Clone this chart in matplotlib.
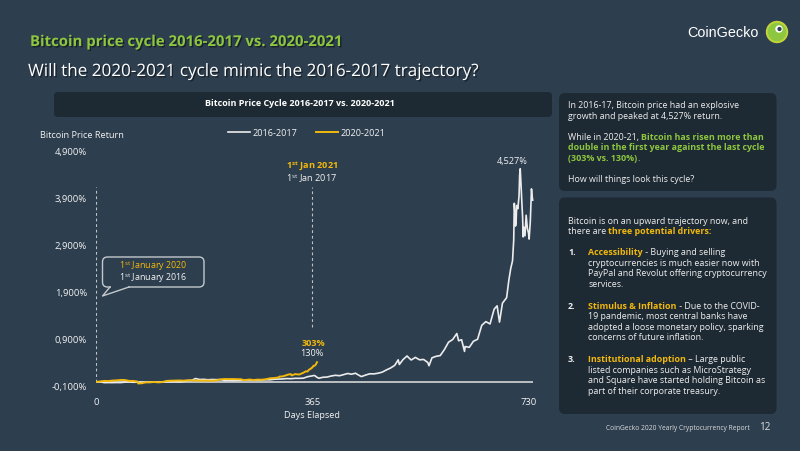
"""
Bitcoin price cycle 2016-2017 vs 2020-2021 slide
"""

import matplotlib
matplotlib.use("Agg")
import matplotlib.pyplot as plt
import matplotlib.patheffects as pe
from matplotlib.font_manager import FontProperties
from matplotlib.patches import FancyBboxPatch, Circle, Rectangle
from matplotlib.lines import Line2D

# ---- data -------------------------------------------------------------
# 2016-2017 cycle, return in % since 1st Jan 2016
days_1617 = [0, 7, 14, 21, 28, 35, 42, 49, 56, 63,
             70, 77, 84, 91, 98, 105, 112, 119, 126, 133,
             140, 147, 154, 161, 168, 175, 182, 189, 196, 203,
             210, 217, 224, 231, 238, 245, 252, 259, 266, 273,
             280, 287, 294, 301, 308, 315, 322, 329, 336, 343,
             350, 357, 362, 365, 368, 370, 372, 376, 383, 390,
             397, 404, 411, 418, 425, 431, 434, 438, 444, 448,
             455, 462, 469, 476, 483, 490, 497, 504, 508, 510,
             512, 518, 525, 528, 532, 539, 546, 553, 560, 562,
             567, 574, 581, 588, 595, 602, 609, 612, 617, 622,
             623, 630, 637, 644, 651, 658, 665, 672, 677, 681,
             686, 693, 697, 700, 703, 705, 706, 707, 708, 709,
             710, 712, 714, 715, 716, 718, 720, 721, 722, 724,
             726, 728, 730, 731, 733, 735, 736, 737]
ret_1617 = [0, 4, -14, -12, -13, -11, -12, -3, 0, -6,
            -3, -6, -4, -4, -3, -1, 3, 5, 6, 5,
            2, 9, 31, 33, 73, 53, 56, 47, 53, 50,
            51, 32, 35, 32, 33, 38, 43, 40, 39, 40,
            42, 47, 46, 59, 62, 65, 73, 70, 78, 78,
            81, 112, 122, 130, 138, 130, 107, 80, 100, 105,
            127, 142, 133, 158, 181, 165, 174, 186, 140, 115,
            147, 174, 172, 186, 209, 255, 296, 352, 428, 471,
            372, 474, 552, 513, 467, 522, 471, 478, 414, 345,
            513, 545, 561, 688, 845, 902, 1029, 875, 898, 649,
            753, 736, 865, 907, 1202, 1282, 1232, 1547, 1617, 1271,
            1674, 1789, 2181, 2411, 2573, 3011, 3794, 3610, 3310, 3379,
            3748, 3679, 3955, 4393, 4527, 4001, 3494, 3080, 3287, 3103,
            3541, 3264, 3160, 3034, 3402, 4100, 3950, 3860]

# 2020-2021 cycle, return in % since 1st Jan 2020
days_2021 = [0, 7, 14, 21, 28, 35, 42, 49, 56, 63,
             70, 71, 77, 84, 91, 98, 105, 112, 119, 126,
             133, 140, 147, 154, 161, 168, 175, 182, 189, 196,
             203, 210, 217, 224, 231, 238, 245, 248, 252, 259,
             266, 273, 280, 287, 294, 301, 308, 310, 315, 322,
             325, 329, 330, 336, 343, 350, 354, 357, 360, 362,
             364, 365, 367, 369, 371, 373]
ret_2021 = [0, 12, 22, 20, 30, 34, 43, 41, 22, 22,
            10, -31, -27, -7, -8, 1, -8, -1, 22, 27,
            29, 32, 28, 34, 37, 31, 29, 28, 31, 27,
            33, 54, 63, 61, 63, 59, 58, 42, 42, 52,
            42, 50, 48, 59, 78, 84, 96, 116, 118, 147,
            160, 166, 138, 167, 158, 196, 226, 223, 267, 276,
            301, 303, 344, 344, 372, 420]

y_ticks = [-100, 900, 1900, 2900, 3900, 4900]
y_tick_labels = ['-0,100%', '0,900%', '1,900%', '2,900%', '3,900%', '4,900%']
x_ticks = [0, 365, 730]
marker_days = [0, 365]
marker_tops = [4140, 4140]
marker_bottoms = [0, 1170]

# ---- style ------------------------------------------------------------
BG = '#2d3e4e'
PANEL = '#1e2a33'
GREEN = '#8dc63f'
YELLOW = '#f2b90c'
WHITE = '#f2f2f2'
GREY = '#d6d6d6'
FONT = 'Open Sans'
LBL = 6.6      # chart label size
TXT = 6.4      # panel text size

plt.rcParams['font.family'] = [FONT, 'DejaVu Sans']
plt.rcParams['mathtext.fontset'] = 'custom'
plt.rcParams['mathtext.rm'] = FONT
plt.rcParams['mathtext.bf'] = FONT + ':bold'
plt.rcParams['mathtext.it'] = FONT + ':italic'

W, H = 800, 451
fig = plt.figure(figsize=(8, 4.51), dpi=100, facecolor=BG)
renderer = fig.canvas.get_renderer()

# decoration layer in pixel coordinates
bg = fig.add_axes([0, 0, 1, 1], zorder=0)
bg.set_xlim(0, W)
bg.set_ylim(H, 0)
bg.axis('off')

shadow = [pe.withSimplePatchShadow(offset=(1, -1), shadow_rgbFace='black', alpha=0.45)]

# titles
bg.text(30, 42, 'Bitcoin price cycle 2016-2017 vs. 2020-2021', color=GREEN,
        fontsize=10.75, fontweight='bold', va='center', path_effects=shadow)
bg.text(28, 72, 'Will the 2020-2021 cycle mimic the 2016-2017 trajectory?',
        color='white', fontsize=12.3, va='center', path_effects=shadow)

# logo
bg.text(687, 33, 'CoinGecko', color='white', fontsize=10.4,
        family='Liberation Sans', va='center')
bg.add_patch(Circle((777, 32), 10.5, color='#c3d33c', zorder=2))
bg.add_patch(Circle((777, 32), 8.5, color='#8dc63f', zorder=3))
bg.add_patch(Circle((779, 29), 3, color='white', zorder=4))
bg.add_patch(Circle((779.5, 29), 1.4, color='#2d3e4e', zorder=5))

# chart title bar
bg.add_patch(FancyBboxPatch((54, 92), 498, 25, boxstyle='round,pad=0,rounding_size=4',
                            fc=PANEL, ec='none'))
bg.text(300, 103.5, 'Bitcoin Price Cycle 2016-2017 vs. 2020-2021', color='white',
        fontsize=6.45, fontweight='bold', ha='center', va='center')

bg.text(40, 135, 'Bitcoin Price Return', color=WHITE, fontsize=LBL, va='center')
bg.text(312, 416, 'Days Elapsed', color=WHITE, fontsize=LBL, ha='center', va='center')

# callout box
bg.add_patch(FancyBboxPatch((102.5, 257), 101.5, 30, boxstyle='round,pad=0,rounding_size=5',
                            fc=BG, ec='#c4c8cc', lw=1, zorder=3))
bg.add_patch(Rectangle((111, 285.5), 17, 3, fc=BG, ec='none', zorder=4))
bg.add_line(Line2D([110, 102.5, 129], [287, 296, 287], color='#c4c8cc', lw=1, zorder=5))
bg.text(153, 265.8, '1$^{\\mathrm{st}}$ January 2020', color=YELLOW, fontsize=6.4,
        ha='center', va='center', zorder=6)
bg.text(153, 278.6, '1$^{\\mathrm{st}}$ January 2016', color=WHITE, fontsize=6.4,
        ha='center', va='center', zorder=6)

# ---- chart -------------------------------------------------------------
px_per_day = 0.5925
px_per_pct = 0.0471
x0_px, ym100_px = 96, 386.7
ax_l, ax_r, ax_t, ax_b = 96, 540, 140, 392
ax = fig.add_axes([ax_l / W, 1 - ax_b / H, (ax_r - ax_l) / W, (ax_b - ax_t) / H], zorder=1)
ax.set_facecolor('none')
ax.set_xlim(0, (ax_r - x0_px) / px_per_day)
ax.set_ylim(-100 - (ax_b - ym100_px) / px_per_pct, -100 + (ym100_px - ax_t) / px_per_pct)
for s in ax.spines.values():
    s.set_visible(False)

ax.hlines(0, 0, days_1617[-1], color=GREY, lw=1.2, zorder=1)
ax.vlines(marker_days, marker_bottoms, marker_tops, color='#bfc3c7', lw=0.8,
          linestyles=(0, (2.5, 2.5)), zorder=1)

ax.plot(days_1617, ret_1617, color='#ececec', lw=1.2, label='2016-2017', zorder=2)
ax.plot(days_2021, ret_2021, color=YELLOW, lw=1.4, label='2020-2021', zorder=3)

ax.set_yticks(y_ticks)
ax.set_yticklabels(y_tick_labels)
ax.set_xticks(x_ticks)
ax.tick_params(length=0, colors=WHITE, labelsize=6.8)
ax.tick_params(axis='y', pad=6.5)
ax.tick_params(axis='x', pad=4)

leg = ax.legend(loc='center', bbox_to_anchor=(307 / W, 1 - 133 / H),
                bbox_transform=fig.transFigure, ncol=2, frameon=False, fontsize=LBL,
                handlelength=2.4, handletextpad=0.3, columnspacing=2.0, labelcolor=WHITE)

# peak label
peak_i = ret_1617.index(max(ret_1617))
ax.annotate('{:,}%'.format(ret_1617[peak_i]), xy=(days_1617[peak_i], ret_1617[peak_i]),
            xytext=(-8, 7), textcoords='offset pixels', color=WHITE, fontsize=LBL,
            ha='center', va='center')

# one-year labels
yr_i = days_2021.index(365)
old_i = days_1617.index(365)
ax.annotate('{}%'.format(ret_2021[yr_i]), xy=(365, 0), xytext=(1, 38),
            textcoords='offset pixels', color=YELLOW, fontsize=LBL, fontweight='bold',
            ha='center', va='center')
ax.annotate('{}%'.format(ret_1617[old_i]), xy=(365, 0), xytext=(0, 28),
            textcoords='offset pixels', color=WHITE, fontsize=LBL, ha='center', va='center')

bg.text(312, 166.8, '1$^{\\mathbf{st}}$ Jan 2021', color=YELLOW, fontsize=LBL,
        fontweight='bold', ha='center', va='center')
bg.text(312, 178.8, '1$^{\\mathrm{st}}$ Jan 2017', color=WHITE, fontsize=LBL,
        ha='center', va='center')

# ---- right panels -------------------------------------------------------
bg.add_patch(FancyBboxPatch((559, 93), 217.5, 98, boxstyle='round,pad=0,rounding_size=6',
                            fc=PANEL, ec='none'))
bg.add_patch(FancyBboxPatch((559, 197.5), 217.5, 216.5, boxstyle='round,pad=0,rounding_size=6',
                            fc=PANEL, ec='none'))


def rich_line(x, y, parts, size=TXT):
    for s, color, bold in parts:
        fp = FontProperties(family=FONT, size=size, weight='bold' if bold else 'normal')
        bg.text(x, y + 2.6, s, fontproperties=fp, color=color, ha='left', va='baseline')
        w_bar = renderer.get_text_width_height_descent('|', fp, ismath=False)[0]
        w = renderer.get_text_width_height_descent(s + '|', fp, ismath=False)[0] - w_bar
        x += w


TX = '#eeeeee'
rich_line(568, 105.7, [('In 2016-17, Bitcoin price had an explosive', TX, False)])
rich_line(568, 116.5, [('growth and peaked at 4,527% return.', TX, False)])
rich_line(568, 137.3, [('While in 2020-21, ', TX, False), ('Bitcoin has risen more than', GREEN, True)])
rich_line(568, 147.8, [('double in the first year against the last cycle', GREEN, True)])
rich_line(568, 158.2, [('(303% vs. 130%)', GREEN, True), ('.', TX, False)])
rich_line(568, 179.3, [('How will things look this cycle?', TX, False)])

rich_line(568, 221, [('Bitcoin is on an upward trajectory now, and', TX, False)])
rich_line(568, 231.7, [('there are ', TX, False), ('three potential drivers:', YELLOW, True)])

items = [
    (252.7, '1.', 'Accessibility', ' - Buying and selling',
     ['cryptocurrencies is much easier now with',
      'PayPal and Revolut offering cryptocurrency',
      'services.']),
    (306, '2.', 'Stimulus & Inflation', ' - Due to the COVID-',
     ['19 pandemic, most central banks have',
      'adopted a loose monetary policy, sparking',
      'concerns of future inflation.']),
    (359.3, '3.', 'Institutional adoption', ' \u2013 Large public',
     ['listed companies such as MicroStrategy',
      'and Square have started holding Bitcoin as',
      'part of their corporate treasury.']),
]
for y, num, head, rest, lines in items:
    rich_line(568, y, [(num, TX, True)])
    rich_line(588.5, y, [(head, YELLOW, True), (rest, TX, False)])
    for k, ln in enumerate(lines):
        rich_line(588.5, y + 10.6 * (k + 1), [(ln, TX, False)])

# footer
bg.text(750, 428, 'CoinGecko 2020 Yearly Cryptocurrency Report', color='#dddddd',
        fontsize=4.8, ha='right', va='center')
bg.text(765, 428, '12', color='#dddddd', fontsize=7.2, ha='center', va='center')

fig.savefig('out.png', dpi=100, facecolor=BG)
